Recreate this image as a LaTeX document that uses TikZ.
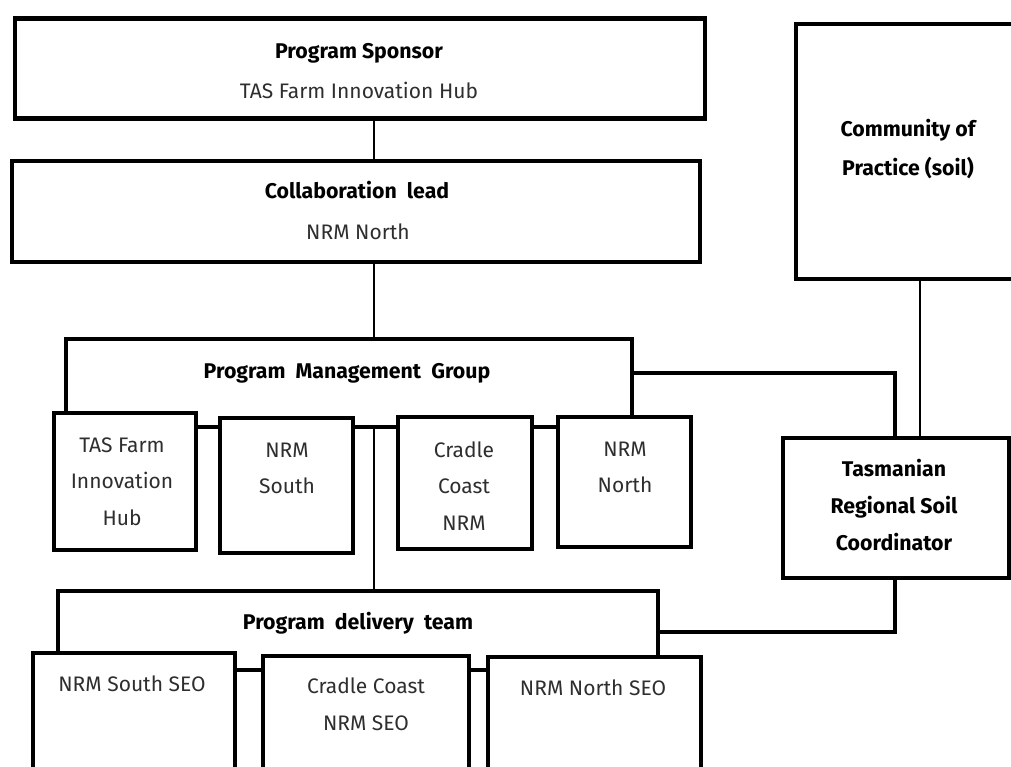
\documentclass[tikz,border=0pt]{standalone}
\usepackage{fontspec}
\setmainfont{Fira Sans}
\usetikzlibrary{calc}
\newcommand\stacklines[1]{\begin{tabular}[t]{@{}c@{}}#1\end{tabular}}
\begin{document}
\begin{tikzpicture}[x=1pt,y=-1pt,
  bx/.style={draw, line width=4.3pt, fill=white, inner sep=0pt},
  thicklink/.style={line width=4.3pt},
  thinlink/.style={line width=2.8pt},
  ttl/.style={anchor=base, inner sep=0pt, font=\fontsize{21.3}{37}\selectfont\bfseries},
  sub/.style={anchor=base, inner sep=0pt, text=black!82, font=\fontsize{21}{37}\selectfont},
]
\useasboundingbox (0,0) rectangle (1011,767);
\clip (0,0) rectangle (1011,767);

% helper coordinates for connector columns
\coordinate (c374) at (374,0);
\coordinate (c920) at (920,0);

% top boxes
\node[bx, minimum width=690pt, minimum height=100pt] (spons) at (360,68.5) {};
\node[bx, minimum width=688pt, minimum height=101pt] (collab) at (356,211.5) {};
\node[bx, minimum width=244pt, minimum height=255pt] (cop) at (918,151.5) {};

% program management group
\node[bx, minimum width=566pt, minimum height=88pt] (pmg) at (349,383) {};
\node[bx, minimum width=142pt, minimum height=137pt] (tasf) at (125,481.5) {};
\node[bx, minimum width=133pt, minimum height=135pt] (nsouth) at (286.5,485.5) {};
\node[bx, minimum width=134pt, minimum height=132pt] (cradle) at (465,483) {};
\node[bx, minimum width=133pt, minimum height=130pt] (nnorth) at (624.5,482) {};

% soil coordinator
\node[bx, minimum width=226pt, minimum height=140pt] (tas) at (896,508) {};

% program delivery team
\node[bx, minimum width=600pt, minimum height=79pt] (pdt) at (358,630.5) {};
\node[bx, minimum width=202pt, minimum height=200pt] (seo1) at (134,753) {};
\node[bx, minimum width=206pt, minimum height=200pt] (seo2) at (366,756) {};
\node[bx, minimum width=213pt, minimum height=200pt] (seo3) at (594.5,757) {};

% connectors
\draw[thinlink] (spons.south -| c374) -- (collab.north -| c374);
\draw[thinlink] (collab.south -| c374) -- (pmg.north -| c374);
\draw[thinlink] (pmg.south -| c374) -- (pdt.north -| c374);
\draw[thinlink] (cop.south -| c920) -- (tas.north -| c920);
\draw[thicklink] ([yshift=10pt]pmg.east) -| ([xshift=-1pt]tas.north);
\draw[thicklink] ([xshift=-1pt]tas.south) |- ([yshift=-1.5pt]pdt.east);

% texts
\node[ttl] (tspons) at (359,59) {Program Sponsor};
\node[sub] (tsponsb) at (359,99) {TAS Farm Innovation Hub};
\node[ttl] (tcollab) at (357,199) {Collaboration\ \ lead};
\node[sub] (tcollabb) at (358,240) {NRM North};
\node[ttl, font=\fontsize{21.3}{39}\selectfont\bfseries] (tcop) at (908,137) {\stacklines{Community of\\Practice (soil)}};
\node[ttl] (tpmg) at (347,378) {Program\ \ Management\ \ Group};
\node[sub, font=\fontsize{21}{36.5}\selectfont] (ttasf) at (122,452) {\stacklines{TAS Farm\\Innovation\\Hub}};
\node[sub, font=\fontsize{21}{36.5}\selectfont] (tnsouth) at (287,457) {\stacklines{NRM\\South}};
\node[sub, font=\fontsize{21}{36.5}\selectfont] (tcradle) at (464,457) {\stacklines{Cradle\\Coast\\NRM}};
\node[sub, font=\fontsize{21}{36.5}\selectfont] (tnnorth) at (625,456) {\stacklines{NRM\\North}};
\node[ttl] (ttas) at (894,476) {\stacklines{Tasmanian\\Regional Soil\\Coordinator}};
\node[ttl] (tpdt) at (358,629) {Program\ \ delivery\ \ team};
\node[sub] (tseo1) at (132,691) {NRM South SEO};
\node[sub] (tseo2) at (366,693) {\stacklines{Cradle Coast\\NRM SEO}};
\node[sub] (tseo3) at (593,695) {NRM North SEO};
\end{tikzpicture}
\end{document}
